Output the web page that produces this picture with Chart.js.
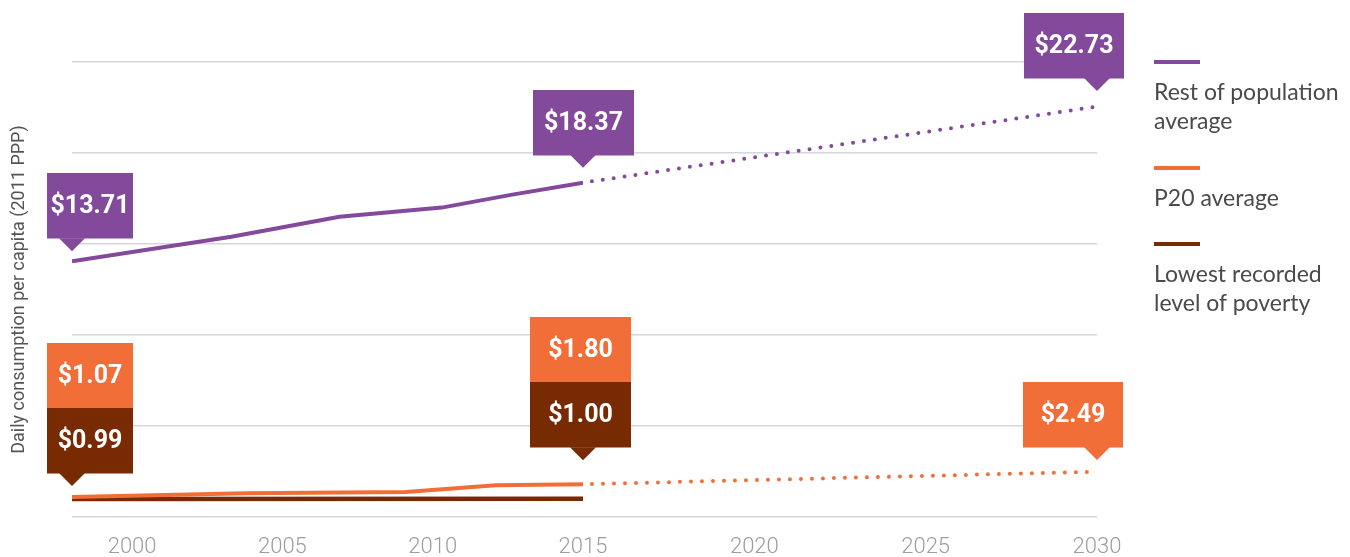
<!DOCTYPE html>
<html>
<head>
<meta charset="utf-8">
<script src="https://cdn.jsdelivr.net/npm/chart.js@4/dist/chart.umd.min.js"></script>
<style>
  html,body{margin:0;padding:0;background:#fff;}
  #wrap{position:relative;width:1350px;height:557px;overflow:hidden;}
  #c{position:absolute;left:0;top:0;}
  .lg{position:absolute;left:1154px;font-family:Lato,"Open Sans",sans-serif;font-size:23px;line-height:29px;color:#4a4a4a;}
  .lg .sw{width:46px;height:4px;margin-bottom:13px;}
</style>
</head>
<body>
<div id="wrap">
  <canvas id="c" width="1350" height="557"></canvas>
</div>
<script>
// ---- data ----
const seriesNames = ["Rest of population average", "P20 average", "Lowest recorded level of poverty"];
const legendLines = [["Rest of population", "average"], ["P20 average"], ["Lowest recorded", "level of poverty"]];

const histYearsRest = [1998, 2003.3, 2006.9, 2010.3, 2012.6, 2015];
const histRest      = [14.05, 15.4, 16.5, 17.0, 17.7, 18.37];
const histYearsP20  = [1998, 2003.8, 2009.1, 2012.1, 2015];
const histP20       = [1.1, 1.3, 1.37, 1.74, 1.80];
const histYearsLow  = [1998, 2015];
const histLow       = [0.99, 1.00];

const projYears = [2015, 2030];
const projRest  = [18.37, 22.55];
const projP20   = [1.80, 2.49];

const xTicksHist = [2000, 2005, 2010, 2015];
const xTicksProj = [2020, 2025, 2030];
const yGrid = [0, 5, 10, 15, 20, 25];

const labelRest = [13.71, 18.37, 22.73];
const labelP20  = [1.07, 1.80, 2.49];
const labelLow  = [0.99, 1.00];

// ---- styles ----
const PURPLE = "#834a9c", ORANGE = "#f26e38", BROWN = "#782a02";
const colors = [PURPLE, ORANGE, BROWN];

const fmt = v => "$" + v.toFixed(2);

// callouts (anchor = plotted point of a series)
const callouts = [
  {axis:"x",  x: histYearsRest[0], anchor: histRest[0], parts:[[fmt(labelRest[0]), PURPLE]], dx:-25, w:86, gap:10},
  {axis:"x",  x: histYearsRest[histYearsRest.length-1], anchor: histRest[histRest.length-1], parts:[[fmt(labelRest[1]), PURPLE]], dx:-50, w:101, gap:15},
  {axis:"x2", x: projYears[1], anchor: projRest[1], parts:[[fmt(labelRest[2]), PURPLE]], dx:-73, w:100, gap:15.6},
  {axis:"x",  x: histYearsP20[0], anchor: histP20[0], parts:[[fmt(labelP20[0]), ORANGE],[fmt(labelLow[0]), BROWN]], dx:-25, w:86, gap:11},
  {axis:"x",  x: histYearsP20[histYearsP20.length-1], anchor: histP20[histP20.length-1], parts:[[fmt(labelP20[1]), ORANGE],[fmt(labelLow[1]), BROWN]], dx:-53, w:101, gap:24},
  {axis:"x2", x: projYears[1], anchor: projP20[1], parts:[[fmt(labelP20[2]), ORANGE]], dx:-74, w:100, gap:11.7}
];
const BOX_H = 65, PTR_H = 13, PTR_W = 13;

const calloutPlugin = {
  id: "callouts",
  afterDatasetsDraw(chart) {
    const ctx = chart.ctx, ys = chart.scales.y;
    ctx.save();
    callouts.forEach(c => {
      const xs = chart.scales[c.axis];
      const tipX = xs.getPixelForValue(c.x);
      const tipY = ys.getPixelForValue(c.anchor) - c.gap;
      const bottom = tipY - PTR_H;
      const top = bottom - BOX_H * c.parts.length;
      const left = Math.round(tipX + c.dx);
      c.parts.forEach((p, i) => {
        const t = Math.round(top + i * BOX_H);
        ctx.fillStyle = p[1];
        ctx.fillRect(left, t, c.w, BOX_H + 0.5);
        ctx.fillStyle = "#fff";
        ctx.font = "bold 25px Roboto, Lato, sans-serif";
        ctx.textAlign = "center";
        ctx.textBaseline = "middle";
        ctx.fillText(p[0], left + c.w / 2, t + BOX_H / 2 + 1);
      });
      ctx.fillStyle = c.parts[c.parts.length - 1][1];
      ctx.beginPath();
      ctx.moveTo(tipX - PTR_W, bottom);
      ctx.lineTo(tipX + PTR_W, bottom);
      ctx.lineTo(tipX, tipY);
      ctx.closePath();
      ctx.fill();
    });
    ctx.restore();
  }
};

const toPts = (xs, ys) => xs.map((x, i) => ({x: x, y: ys[i]}));

const solid = (data, color, width, axis) => ({
  data, xAxisID: axis, borderColor: color, borderWidth: width, pointRadius: 0,
  tension: 0, fill: false, borderCapStyle: "butt"
});
const dotted = (data, color, axis) => ({
  data, xAxisID: axis, borderColor: color, borderWidth: 4, pointRadius: 0,
  tension: 0, fill: false, borderDash: [0, 11], borderDashOffset: 2, borderCapStyle: "round"
});

const tickFont = {family: "Roboto, sans-serif", size: 22, weight: "300"};

new Chart(document.getElementById("c"), {
  type: "line",
  data: {
    datasets: [
      Object.assign(solid(toPts(histYearsRest, histRest), PURPLE, 4, "x"), {label: seriesNames[0]}),
      Object.assign(dotted(toPts(projYears, projRest), PURPLE, "x2"), {label: seriesNames[0] + " (projection)"}),
      Object.assign(solid(toPts(histYearsP20, histP20), ORANGE, 4, "x"), {label: seriesNames[1]}),
      Object.assign(dotted(toPts(projYears, projP20), ORANGE, "x2"), {label: seriesNames[1] + " (projection)"}),
      Object.assign(solid(toPts(histYearsLow, histLow), BROWN, 4.5, "x"), {label: seriesNames[2]})
    ]
  },
  options: {
    responsive: false,
    animation: false,
    devicePixelRatio: 1,
    layout: {padding: {top: 62, right: 253, bottom: 0, left: 0}},
    plugins: {legend: {display: false}, tooltip: {enabled: false}},
    scales: {
      x: {
        type: "linear", position: "bottom", stack: "years", stackWeight: 511,
        min: histYearsRest[0], max: xTicksHist[xTicksHist.length - 1],
        grid: {display: false, drawTicks: false}, border: {display: false},
        afterBuildTicks: s => { s.ticks = xTicksHist.map(v => ({value: v})); },
        afterFit: s => { s.height = 40; },
        ticks: {color: "#9c9ca4", font: tickFont, padding: 17, maxRotation: 0, autoSkip: false,
                callback: v => String(v)}
      },
      x2: {
        type: "linear", position: "bottom", stack: "years", stackWeight: 514,
        min: projYears[0], max: projYears[1],
        grid: {display: false, drawTicks: false}, border: {display: false},
        afterBuildTicks: s => { s.ticks = xTicksProj.map(v => ({value: v})); },
        afterFit: s => { s.height = 40; },
        ticks: {color: "#9c9ca4", font: tickFont, padding: 17, maxRotation: 0, autoSkip: false,
                callback: v => String(v)}
      },
      y: {
        type: "linear", position: "left",
        min: yGrid[0], max: yGrid[yGrid.length - 1],
        afterBuildTicks: s => { s.ticks = yGrid.map(v => ({value: v})); },
        afterFit: s => { s.width = 72; },
        ticks: {display: false},
        grid: {color: "#d6d4dc", lineWidth: 1.5, drawTicks: false},
        border: {display: false},
        title: {display: true, text: "Daily consumption per capita (2011 PPP)", color: "#555",
                font: {family: "Roboto, sans-serif", size: 18}, padding: {top: 9, bottom: 0}}
      }
    }
  },
  plugins: [calloutPlugin]
});

// legend (HTML, real text)
const legendTops = [60, 166, 242];
const wrap = document.getElementById("wrap");
seriesNames.forEach((n, i) => {
  const d = document.createElement("div");
  d.className = "lg";
  d.style.top = legendTops[i] + "px";
  d.innerHTML = '<div class="sw" style="background:' + colors[i] + '"></div>' + legendLines[i].join("<br>");
  wrap.appendChild(d);
});
</script>
</body>
</html>
